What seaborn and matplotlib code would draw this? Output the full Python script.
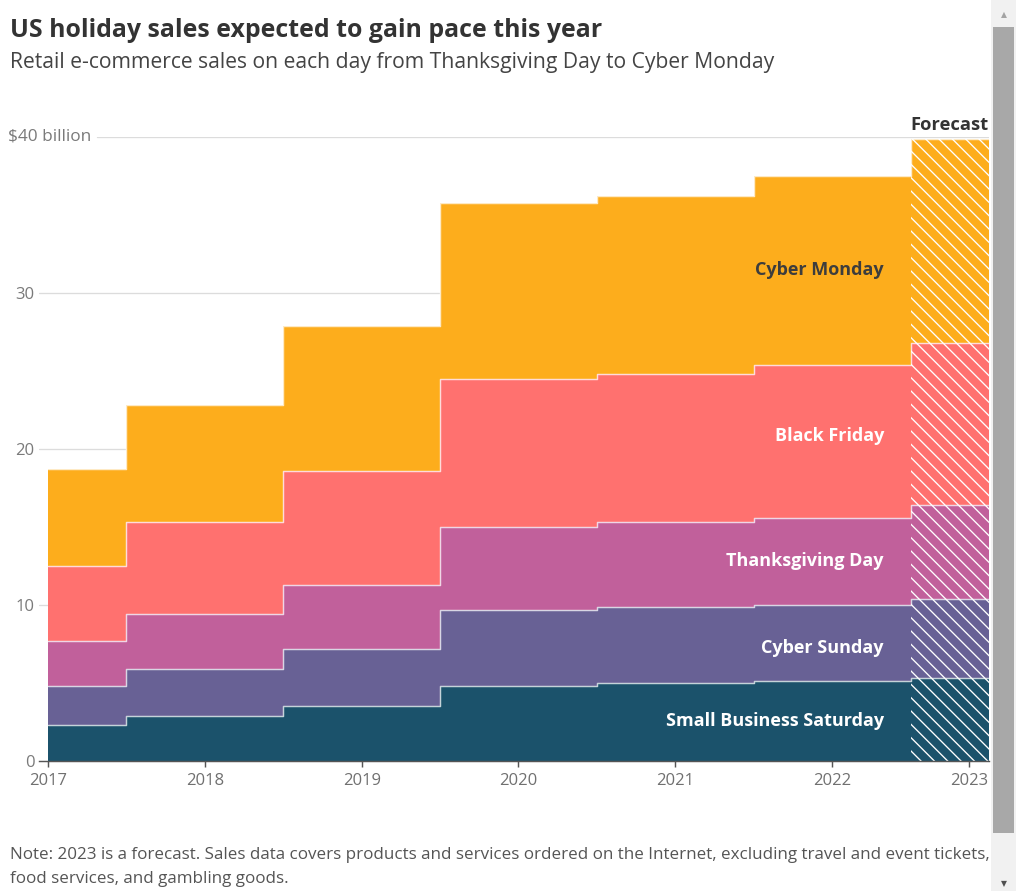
import matplotlib
matplotlib.use("Agg")
import matplotlib.pyplot as plt
import matplotlib.transforms as mtransforms
import numpy as np
import pandas as pd
import seaborn as sns

# ---------------- data ----------------
years = [2017, 2018, 2019, 2020, 2021, 2022, 2023]
year_labels = ["2017", "2018", "2019", "2020", "2021", "2022", "2023"]
small_business_saturday = [2.3, 2.9, 3.5, 4.8, 5.0, 5.1, 5.3]
cyber_sunday = [2.5, 3.0, 3.7, 4.9, 4.9, 4.9, 5.1]
thanksgiving_day = [2.9, 3.5, 4.1, 5.3, 5.4, 5.6, 6.0]
black_friday = [4.8, 5.9, 7.3, 9.5, 9.5, 9.8, 10.4]
cyber_monday = [6.2, 7.5, 9.3, 11.3, 11.4, 12.1, 13.1]
series_names = ["Small Business Saturday", "Cyber Sunday", "Thanksgiving Day",
                "Black Friday", "Cyber Monday"]
series_values = [small_business_saturday, cyber_sunday, thanksgiving_day,
                 black_friday, cyber_monday]
series_colors = ["#1b526b", "#686195", "#c1609b", "#ff716f", "#fdad1c"]
label_colors = ["white", "white", "white", "white", "#3d3d3d"]
label_nudge = [0.0, -0.3, 0.0, 0.35, 0.0]
y_ticks = [0, 10, 20, 30]
y_tick_labels = ["0", "10", "20", "30"]

# ---------------- style ----------------
sns.set_theme(style="white")
plt.rcParams["font.family"] = ["Open Sans", "DejaVu Sans"]
plt.rcParams["hatch.linewidth"] = 1.2
plt.rcParams["hatch.color"] = "white"

W, H, DPI = 1016, 891, 80
fig = plt.figure(figsize=(W / DPI, H / DPI), dpi=DPI)
ax_l, ax_r, ax_b, ax_t = 39, 989, 761, 137
ax = fig.add_axes([ax_l / W, (H - ax_b) / H, (ax_r - ax_l) / W, (ax_b - ax_t) / H])

df = pd.DataFrame({"year": years})
cum = np.zeros(len(years))
for name, vals, col in zip(series_names, series_values, series_colors):
    lower = cum.copy()
    cum = cum + np.array(vals)
    df[name + "_lo"] = lower
    df[name + "_hi"] = cum
    ax.fill_between(df["year"], lower, cum, step="mid", color=col, lw=0, zorder=2)

# white boundary lines between layers (seaborn)
for name in series_names:
    sns.lineplot(data=df, x="year", y=name + "_hi", drawstyle="steps-mid",
                 color="white", alpha=0.75, lw=1.3, ax=ax, zorder=3, legend=False)

# forecast hatching on the last year
last = years[-1]
total = df[series_names[-1] + "_hi"].iloc[-1]
ax.fill_between([last - 0.5, last], [0, 0], [total, total], facecolor="none",
                edgecolor="white", lw=0, hatch="\\\\", zorder=4)

# gridlines
span = ax_r - ax_l
for yv in y_ticks[1:]:
    ax.axhline(yv, color="#dcdcdc", lw=1.2, zorder=0)
ax.axhline(40, xmin=(97 - ax_l) / span, color="#dcdcdc", lw=1.2, zorder=0)

ax.set_xlim(2016.943, 2023.0)
ax.set_ylim(0, 40)

# axes / ticks
for s in ["top", "right", "left"]:
    ax.spines[s].set_visible(False)
ax.spines["bottom"].set_color("#555555")
ax.spines["bottom"].set_linewidth(1.3)
ax.spines["bottom"].set_zorder(5)

xtick_pos = years[:-1] + [last - 0.125]
ax.set_xticks(xtick_pos)
ax.set_xticklabels(year_labels, fontsize=15, color="#707070")
ax.tick_params(axis="x", direction="out", length=5, width=1.3, color="#555555",
               pad=6, bottom=True)
ax.set_yticks(y_ticks)
ax.set_yticklabels(y_tick_labels, fontsize=15, color="#7a7a7a")
ax.tick_params(axis="y", length=0, pad=4)
ax.set_xlabel("")
ax.set_ylabel("")

blend = mtransforms.blended_transform_factory(ax.transAxes, ax.transData)
ax.text((91 - ax_l) / span, 40, "$40 billion", ha="right", va="center",
        fontsize=15.5, color="#7a7a7a", transform=blend)
ax.text(1.0, 40.8, "Forecast", ha="right", va="center", fontsize=16.5,
        fontweight="bold", color="#333333", transform=blend, clip_on=False)

# series labels centred in the 2022 band
idx = years.index(2022)
for name, lc, nudge in zip(series_names, label_colors, label_nudge):
    lo = df[name + "_lo"].iloc[idx]
    hi = df[name + "_hi"].iloc[idx]
    ax.text(2022.33, (lo + hi) / 2 + nudge, name, ha="right", va="center",
            fontsize=16.2, fontweight="bold", color=lc, zorder=6)

# titles and note
fig.text(10 / W, 1 - 37 / H, "US holiday sales expected to gain pace this year",
         fontsize=22.4, fontweight="bold", color="#333333", va="baseline", ha="left")
fig.text(10 / W, 1 - 68 / H,
         "Retail e-commerce sales on each day from Thanksgiving Day to Cyber Monday",
         fontsize=19, color="#444444", va="baseline", ha="left")
fig.text(10 / W, 1 - 859 / H,
         "Note: 2023 is a forecast. Sales data covers products and services ordered on the Internet, excluding travel and event tickets,",
         fontsize=15.3, color="#555555", va="baseline", ha="left")
fig.text(10 / W, 1 - 883 / H, "food services, and gambling goods.",
         fontsize=15.3, color="#555555", va="baseline", ha="left")

# scrollbar seen in the reference screenshot
fig.patches.append(plt.Rectangle((991 / W, 0), 25 / W, 1, transform=fig.transFigure,
                                 facecolor="#f1f1f1", edgecolor="none", zorder=0))
fig.patches.append(plt.Rectangle((993 / W, 1 - 833 / H), 21 / W, (833 - 27) / H,
                                 transform=fig.transFigure, facecolor="#a8a8a8",
                                 edgecolor="none", zorder=1))
fig.text(1003.5 / W, 1 - 15 / H, "▲", fontsize=7, color="#a3a3a3", ha="center",
         va="center", family="DejaVu Sans")
fig.text(1003.5 / W, 1 - 884 / H, "▼", fontsize=7, color="#505050", ha="center",
         va="center", family="DejaVu Sans")

fig.savefig("out.png", dpi=DPI)
